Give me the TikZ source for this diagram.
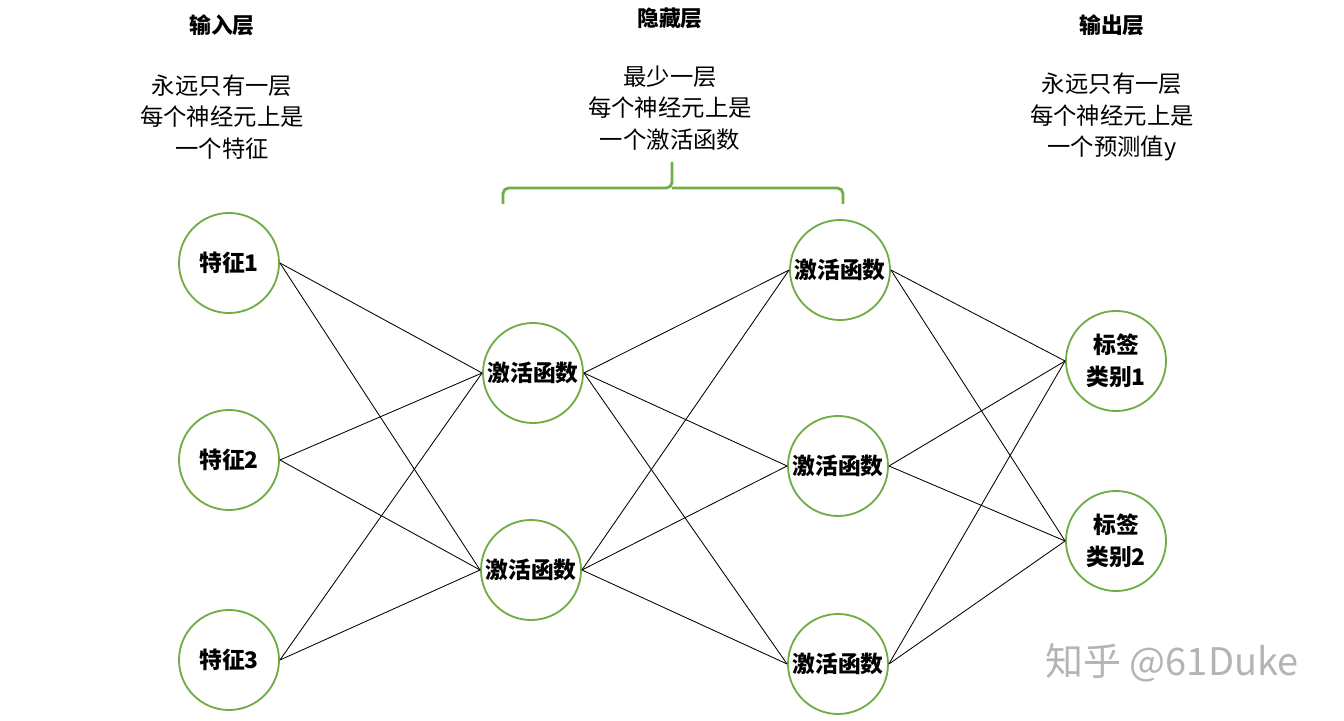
\documentclass[tikz,border=0pt]{standalone}
\usepackage{fontspec}
\setmainfont{Noto Sans CJK SC}
\usepackage{tikz}
\usetikzlibrary{positioning}
\definecolor{NeuronGreen}{HTML}{70AD47}
\definecolor{MarkGray}{HTML}{B4B4B4}

\begin{document}
\begin{tikzpicture}[
  x=0.025cm, y=-0.025cm,
  % ── neuron (circle) ──────────────────────────────────────────────────────
  neuron/.style={
    circle, draw=NeuronGreen, line width=1.3pt, fill=white,
    minimum size=2.5cm, inner sep=0pt,
    align=center, font=\fontsize{16.2}{22.6}\selectfont\bfseries
  },
  % ── layer title and description ──────────────────────────────────────────
  title/.style={font=\fontsize{15.5}{20}\selectfont\bfseries},
  desc/.style={align=center, font=\fontsize{16.6}{22.6}\selectfont},
  % ── connectors ───────────────────────────────────────────────────────────
  link/.style={draw=black, line width=0.6pt},
  brace/.style={draw=NeuronGreen, line width=2pt, rounded corners=4pt},
  wmark/.style={text=MarkGray, font=\fontsize{27}{30}\selectfont},
]
\useasboundingbox (0,0) rectangle (1344,721);

%% ── Layer headings ───────────────────────────────────────────────────────
\node[title] (Tin)  at (222,25)  {输入层};
\node[desc]  (Din)  at (222,117) {永远只有一层\\每个神经元上是\\一个特征};
\node[title] (Thid) at (670,18)  {隐藏层};
\node[desc]  (Dhid) at (670,108) {最少一层\\每个神经元上是\\一个激活函数};
\node[title] (Tout) at (1112,25) {输出层};
\node[desc]  (Dout) at (1112,117) {永远只有一层\\每个神经元上是\\一个预测值y};

%% ── Brace over the hidden layers ─────────────────────────────────────────
\coordinate (BL) at (503,204);
\coordinate (BR) at (843,204);
\coordinate (BT) at (672,162);
\draw[brace] (BL) |- (BT |- 0,188) -- (BT);
\draw[brace] (BR) |- (BT |- 0,188);

%% ── Input layer ──────────────────────────────────────────────────────────
\node[neuron] (X1) at (229,263) {特征1};
\node[neuron] (X2) at (229,460) {特征2};
\node[neuron] (X3) at (229,660) {特征3};

%% ── First hidden layer ───────────────────────────────────────────────────
\node[neuron] (H1) at (533,373) {激活函数};
\node[neuron] (H2) at (531,570) {激活函数};

%% ── Second hidden layer ──────────────────────────────────────────────────
\node[neuron] (G1) at (840,270) {激活函数};
\node[neuron] (G2) at (838,466) {激活函数};
\node[neuron] (G3) at (838,664) {激活函数};

%% ── Output layer ─────────────────────────────────────────────────────────
\node[neuron] (Y1) at (1116,361) {标签\\类别1};
\node[neuron] (Y2) at (1116,541) {标签\\类别2};

%% ── Input -> first hidden ────────────────────────────────────────────────
\draw[link] (X1.east) -- (H1.west);
\draw[link] (X1.east) -- (H2.west);
\draw[link] (X2.east) -- (H1.west);
\draw[link] (X2.east) -- (H2.west);
\draw[link] (X3.east) -- (H1.west);
\draw[link] (X3.east) -- (H2.west);

%% ── First hidden -> second hidden ────────────────────────────────────────
\draw[link] (H1.east) -- (G1.west);
\draw[link] (H1.east) -- (G2.west);
\draw[link] (H1.east) -- (G3.west);
\draw[link] (H2.east) -- (G1.west);
\draw[link] (H2.east) -- (G2.west);
\draw[link] (H2.east) -- (G3.west);

%% ── Second hidden -> output ──────────────────────────────────────────────
\draw[link] (G1.east) -- (Y1.west);
\draw[link] (G1.east) -- (Y2.west);
\draw[link] (G2.east) -- (Y1.west);
\draw[link] (G2.east) -- (Y2.west);
\draw[link] (G3.east) -- (Y1.west);
\draw[link] (G3.east) -- (Y2.west);

%% ── Watermark ────────────────────────────────────────────────────────────
\node[wmark] (WM) at (1172,663) {知乎 @61Duke};

\end{tikzpicture}
\end{document}
